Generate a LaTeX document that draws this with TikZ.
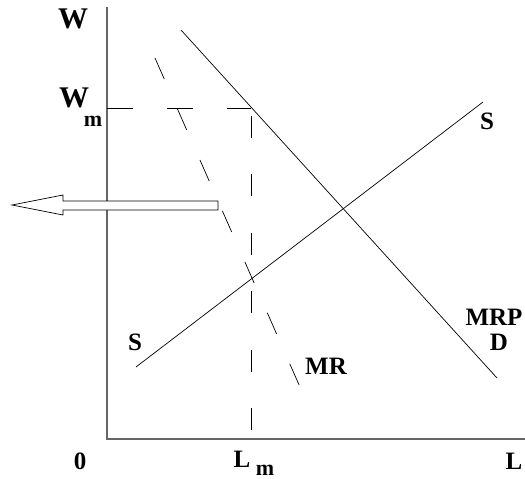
\documentclass[tikz,border=0pt]{standalone}
\usepackage{fontspec}
\setmainfont{Liberation Serif}
\begin{document}
\begin{tikzpicture}[x=1pt,y=-1pt,
  axis/.style={draw=gray!80!black,line width=1.3pt},
  curve/.style={draw=black,line width=0.7pt},
  lbl/.style={font=\fontsize{25}{28}\selectfont\bfseries,inner sep=0pt},
  biglbl/.style={font=\fontsize{30}{32}\selectfont\bfseries,inner sep=0pt},
  sub/.style={font=\fontsize{22}{24}\selectfont\bfseries,inner sep=0pt}]
\useasboundingbox (0,0) rectangle (525,479);
% axes
\coordinate (top) at (107,7);
\coordinate (O) at (107,439);
\coordinate (xend) at (525,439);
\draw[axis] (top) -- (O) -- (xend);
% dashed Wm and Lm
\coordinate (wm) at (107,108);
\coordinate (e) at (251,108);
\coordinate (lm) at (251,439);
\draw[curve,dash pattern=on 26pt off 34pt] (wm) -- (e);
\draw[curve,dash pattern=on 22pt off 36.5pt,dash phase=51pt] (e) -- (lm);
% MRP / D
\coordinate (d1) at (181,30);
\coordinate (d2) at (497,378);
\draw[curve] (d1) -- (d2);
% S
\coordinate (s1) at (136,367);
\coordinate (s2) at (483,102);
\draw[curve] (s1) -- (s2);
% MR
\coordinate (m1) at (155,58);
\coordinate (m2) at (300,387);
\draw[curve,dash pattern=on 23pt off 32.7pt] (m1) -- (m2);
% hollow arrow
\draw[black,line width=0.7pt,fill=white]
  (218,201) -- (63,201) -- (63,195) -- (12,205) -- (63,215) -- (63,210) -- (218,210) -- cycle;
% labels
\node[biglbl] (W) at (73,19) {W};
\node[biglbl] (Wm) at (74,98) {W};
\node[sub] (Wmsub) at (93,121) {m};
\node[lbl] (S1) at (487,121) {S};
\node[lbl] (S2) at (135,342) {S};
\node[lbl] (MRP) at (494,317) {MRP};
\node[lbl] (D) at (499,342) {D};
\node[lbl] (MR) at (326,366) {MR};
\node[lbl] (zero) at (80,461) {0};
\node[lbl] (Lm) at (242,459) {L};
\node[sub] (Lmsub) at (265,470) {m};
\node[lbl] (L) at (514,461) {L};
\end{tikzpicture}
\end{document}
